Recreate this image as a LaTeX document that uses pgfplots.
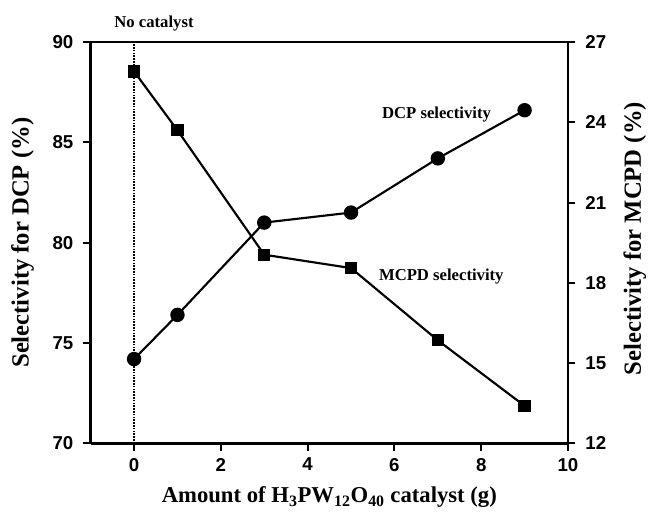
\documentclass[border=0pt]{standalone}
\usepackage{fontspec}
\setmainfont{Liberation Serif}
\setsansfont{Liberation Sans}
\usepackage{pgfplots}
\pgfplotsset{compat=1.18}

\pgfplotsset{
  common/.style={
    scale only axis, width=358pt, height=301pt,
    xmin=-1, xmax=10,
    tick align=outside, major tick length=5.5pt,
    every tick/.style={line width=1.5pt, black},
    axis line style={line width=1.8pt},
    tick label style={font=\sffamily\bfseries\fontsize{14}{16}\selectfont},
    /pgf/number format/assume math mode=true,
    clip=false,
  }
}

\begin{document}
\begin{tikzpicture}
\useasboundingbox (-68pt,-56pt) rectangle (419.5pt,332.5pt);
\begin{axis}[common,
  axis x line*=bottom, axis y line*=left,
  ymin=70, ymax=90, ytick={70,75,...,90},
  xtick={0,2,...,10},
  xticklabel style={yshift=-2pt},
  yticklabel style={xshift=-4pt},
  xlabel={Amount of H\textsubscript{3}PW\textsubscript{12}O\textsubscript{40} catalyst (g)},
  ylabel={Selectivity for DCP (\%)},
  xlabel style={font=\bfseries\fontsize{17}{20}\selectfont, at={(axis description cs:0.5,-0.135)}, anchor=center},
  ylabel style={font=\bfseries\fontsize{18.5}{21}\selectfont, at={(axis description cs:-0.1425,0.5)}, anchor=center},
]
\draw[line width=1.8pt] (rel axis cs:0,1) -- (rel axis cs:1,1);
\addplot[black, densely dotted, line width=1.1pt] coordinates {(0,70) (0,90)};
\addplot[black, line width=1.6pt, mark=*, mark size=4.6pt] coordinates {
  (0,74.2) (1,76.4) (3,81.0) (5,81.5) (7,84.2) (9,86.6)};
\node[font=\bfseries\fontsize{12.5}{14}\selectfont] at (axis cs:0.46,90) [yshift=14pt] {No catalyst};
\node[font=\bfseries\fontsize{12.5}{14}\selectfont] at (axis cs:6.97,86.4) {DCP selectivity};
\end{axis}
\begin{axis}[common,
  axis x line=none, axis y line*=right,
  ymin=12, ymax=27, ytick={12,15,...,27},
  yticklabel style={xshift=4pt},
  ylabel={Selectivity for MCPD (\%)},
  ylabel style={font=\bfseries\fontsize{18.5}{21}\selectfont, at={(axis description cs:1.14,0.51)}, anchor=center},
]
\addplot[black, line width=1.6pt, mark=square*, mark size=3.8pt] coordinates {
  (0,25.9) (1,23.7) (3,19.05) (5,18.55) (7,15.85) (9,13.4)};
\node[font=\bfseries\fontsize{12.5}{14}\selectfont] at (axis cs:7.08,18.23) {MCPD selectivity};
\end{axis}
\end{tikzpicture}
\end{document}
